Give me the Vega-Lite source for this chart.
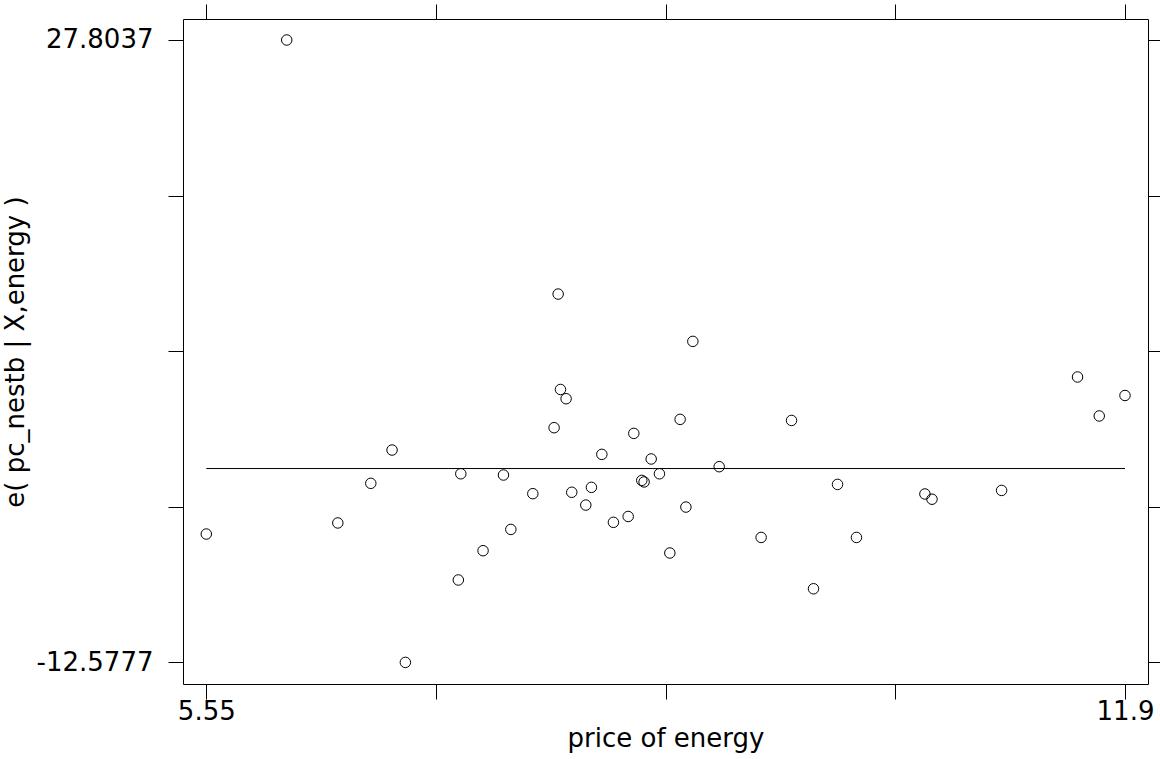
{
  "$schema": "https://vega.github.io/schema/vega-lite/v6.json",
  "width": 965,
  "height": 665,
  "autosize": {"type": "none"},
  "padding": {"left": 183, "top": 19, "right": 12, "bottom": 75},
  "background": "white",
  "config": {
    "view": {"stroke": "black", "strokeWidth": 1},
    "axis": {
      "domain": false,
      "grid": false,
      "ticks": true,
      "tickColor": "black",
      "tickWidth": 1,
      "tickSize": 15,
      "labelColor": "black",
      "labelFont": "DejaVu Sans",
      "labelFontSize": 26,
      "labelFlush": false,
      "labelOverlap": false,
      "titleColor": "black",
      "titleFont": "DejaVu Sans",
      "titleFontSize": 26,
      "titleFontWeight": "normal"
    }
  },
  "datasets": {
    "points": [
      {"price": 5.55, "resid": -4.25},
      {"price": 6.106, "resid": 27.8037},
      {"price": 6.459, "resid": -3.53},
      {"price": 6.687, "resid": -0.96},
      {"price": 6.834, "resid": 1.20},
      {"price": 6.926, "resid": -12.5777},
      {"price": 7.292, "resid": -7.23},
      {"price": 7.309, "resid": -0.34},
      {"price": 7.463, "resid": -5.33},
      {"price": 7.604, "resid": -0.42},
      {"price": 7.655, "resid": -3.95},
      {"price": 7.807, "resid": -1.63},
      {"price": 7.954, "resid": 2.65},
      {"price": 7.982, "resid": 11.32},
      {"price": 7.998, "resid": 5.13},
      {"price": 8.037, "resid": 4.53},
      {"price": 8.076, "resid": -1.54},
      {"price": 8.173, "resid": -2.37},
      {"price": 8.212, "resid": -1.22},
      {"price": 8.284, "resid": 0.92},
      {"price": 8.364, "resid": -3.49},
      {"price": 8.466, "resid": -3.11},
      {"price": 8.505, "resid": 2.28},
      {"price": 8.560, "resid": -0.77},
      {"price": 8.576, "resid": -0.87},
      {"price": 8.625, "resid": 0.62},
      {"price": 8.682, "resid": -0.34},
      {"price": 8.754, "resid": -5.48},
      {"price": 8.825, "resid": 3.19},
      {"price": 8.865, "resid": -2.50},
      {"price": 8.913, "resid": 8.25},
      {"price": 9.095, "resid": 0.12},
      {"price": 9.385, "resid": -4.47},
      {"price": 9.595, "resid": 3.12},
      {"price": 9.747, "resid": -7.80},
      {"price": 9.913, "resid": -1.03},
      {"price": 10.044, "resid": -4.47},
      {"price": 10.517, "resid": -1.65},
      {"price": 10.566, "resid": -1.99},
      {"price": 11.047, "resid": -1.42},
      {"price": 11.572, "resid": 5.94},
      {"price": 11.722, "resid": 3.41},
      {"price": 11.9, "resid": 4.74}
    ],
    "fit": [
      {"price": 5.55, "resid": 0.0},
      {"price": 11.9, "resid": 0.0}
    ]
  },
  "layer": [
    {
      "data": {"name": "points"},
      "mark": {"type": "point", "shape": "circle", "filled": false, "color": "black", "size": 110, "strokeWidth": 1, "opacity": 1},
      "encoding": {
        "x": {
          "field": "price", "type": "quantitative",
          "scale": {"domain": [5.389, 12.059], "nice": false, "zero": false},
          "axis": {
            "orient": "bottom",
            "title": "price of energy",
            "values": [5.55, 7.1375, 8.725, 10.3125, 11.9],
            "labelExpr": "abs(datum.value - 5.55) < 0.001 ? '5.55' : (abs(datum.value - 11.9) < 0.001 ? '11.9' : '')",
            "labelPadding": -1,
            "titlePadding": 1
          }
        },
        "y": {
          "field": "resid", "type": "quantitative",
          "scale": {"domain": [-13.979, 29.166], "nice": false, "zero": false},
          "axis": {
            "orient": "left",
            "title": "e( pc_nestb | X,energy )",
            "values": [-12.5777, -2.48235, 7.613, 17.70835, 27.8037],
            "labelExpr": "abs(datum.value - 27.8037) < 0.001 ? '27.8037' : (abs(datum.value + 12.5777) < 0.001 ? '-12.5777' : '')",
            "labelPadding": 15,
            "titlePadding": 8
          }
        }
      }
    },
    {
      "data": {"name": "fit"},
      "mark": {"type": "line", "color": "black", "strokeWidth": 1},
      "encoding": {
        "x": {
          "field": "price", "type": "quantitative",
          "axis": {"orient": "top", "title": null, "labels": false, "values": [5.55, 7.1375, 8.725, 10.3125, 11.9]}
        },
        "y": {
          "field": "resid", "type": "quantitative",
          "axis": {"orient": "right", "title": null, "labels": false, "values": [-12.5777, -2.48235, 7.613, 17.70835, 27.8037]}
        }
      }
    }
  ],
  "resolve": {"axis": {"x": "independent", "y": "independent"}}
}
